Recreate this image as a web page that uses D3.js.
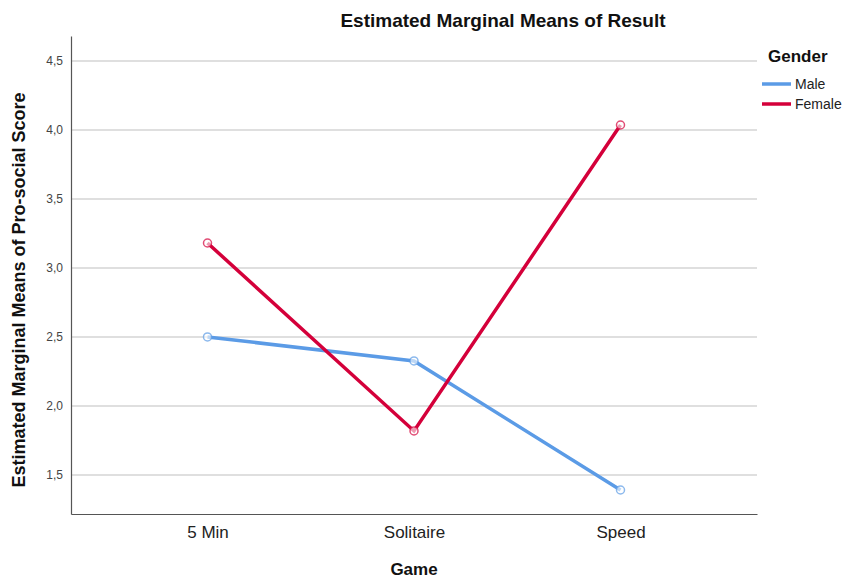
<!DOCTYPE html>
<html>
<head>
<meta charset="utf-8">
<script src="https://cdn.jsdelivr.net/npm/d3@7"></script>
<style>
  body { margin: 0; background: #fff; }
  text { font-family: "Liberation Sans", Arial, sans-serif; }
</style>
</head>
<body>
<svg id="chart"></svg>
<script>
const games = ["5 Min", "Solitaire", "Speed"];
const maleMeans = [2.50, 2.326, 1.391];
const femaleMeans = [3.181, 1.819, 4.036];
const yTicks = [1.5, 2.0, 2.5, 3.0, 3.5, 4.0, 4.5];

const series = [
    { name: "Male", values: maleMeans, color: "#5b9be6" },
    { name: "Female", values: femaleMeans, color: "#d4003a" }
];

const width = 848;
const height = 580;
const margin = { top: 36, right: 91, bottom: 66, left: 71 };

const svg = d3.select('#chart').attr('width', width).attr('height', height);

const xScale = d3.scalePoint()
    .domain(games)
    .range([margin.left, width - margin.right])
    .padding(0.661);

const yScale = d3.scaleLinear()
    .domain([1.217, 4.681])
    .range([height - margin.bottom, margin.top]);

// gridlines
svg.append('g')
    .selectAll('line')
    .data(yTicks)
    .enter()
    .append('line')
    .attr('x1', margin.left)
    .attr('x2', width - margin.right)
    .attr('y1', d => yScale(d))
    .attr('y2', d => yScale(d))
    .attr('stroke', '#d4d4d4')
    .attr('stroke-width', 1.6);

// axes
const yAxis = svg.append('g')
    .attr('transform', `translate(${margin.left}, 0)`)
    .call(d3.axisLeft(yScale).tickValues(yTicks).tickSize(0).tickPadding(8)
        .tickFormat(d => d3.format('.1f')(d).replace('.', ',')));
yAxis.select('.domain').attr('stroke', '#555').attr('stroke-width', 1.2);
yAxis.selectAll('text').style('font-size', '12px').attr('fill', '#444');

const xAxis = svg.append('g')
    .attr('transform', `translate(0, ${height - margin.bottom})`)
    .call(d3.axisBottom(xScale).tickSize(0).tickPadding(12).tickSizeOuter(0));
xAxis.select('.domain').attr('stroke', '#555').attr('stroke-width', 1.2);
xAxis.selectAll('text').style('font-size', '17px').attr('fill', '#222');

// lines and markers
const line = d3.line()
    .x((d, i) => xScale(games[i]))
    .y(d => yScale(d));

series.forEach(s => {
    svg.append('path')
        .datum(s.values)
        .attr('fill', 'none')
        .attr('stroke', s.color)
        .attr('stroke-width', 3.5)
        .attr('d', line);

    svg.selectAll(`.pt_${s.name}`)
        .data(s.values)
        .enter()
        .append('circle')
        .attr('cx', (d, i) => xScale(games[i]))
        .attr('cy', d => yScale(d))
        .attr('r', 4)
        .attr('fill', '#fff')
        .attr('fill-opacity', 0.6)
        .attr('stroke', s.color)
        .attr('stroke-opacity', 0.7)
        .attr('stroke-width', 1.5);
});

// titles
svg.append('text')
    .attr('x', 503)
    .attr('y', 27)
    .attr('text-anchor', 'middle')
    .style('font-size', '19px')
    .style('font-weight', 'bold')
    .attr('fill', '#111')
    .text('Estimated Marginal Means of Result');

svg.append('text')
    .attr('transform', `translate(25, ${290}) rotate(-90)`)
    .attr('text-anchor', 'middle')
    .style('font-size', '18px')
    .style('font-weight', 'bold')
    .attr('fill', '#111')
    .text('Estimated Marginal Means of Pro-social Score');

svg.append('text')
    .attr('x', 414)
    .attr('y', 575)
    .attr('text-anchor', 'middle')
    .style('font-size', '17px')
    .style('font-weight', 'bold')
    .attr('fill', '#111')
    .text('Game');

// legend
const legend = svg.append('g').attr('transform', 'translate(762, 0)');
legend.append('text')
    .attr('x', 6)
    .attr('y', 62)
    .style('font-size', '17px')
    .style('font-weight', 'bold')
    .attr('fill', '#111')
    .text('Gender');

series.forEach((s, i) => {
    legend.append('line')
        .attr('x1', 0)
        .attr('x2', 29)
        .attr('y1', 84 + i * 20)
        .attr('y2', 84 + i * 20)
        .attr('stroke', s.color)
        .attr('stroke-width', 3.5);
    legend.append('text')
        .attr('x', 33)
        .attr('y', 89 + i * 20)
        .style('font-size', '14px')
        .attr('fill', '#222')
        .text(s.name);
});
</script>
</body>
</html>
